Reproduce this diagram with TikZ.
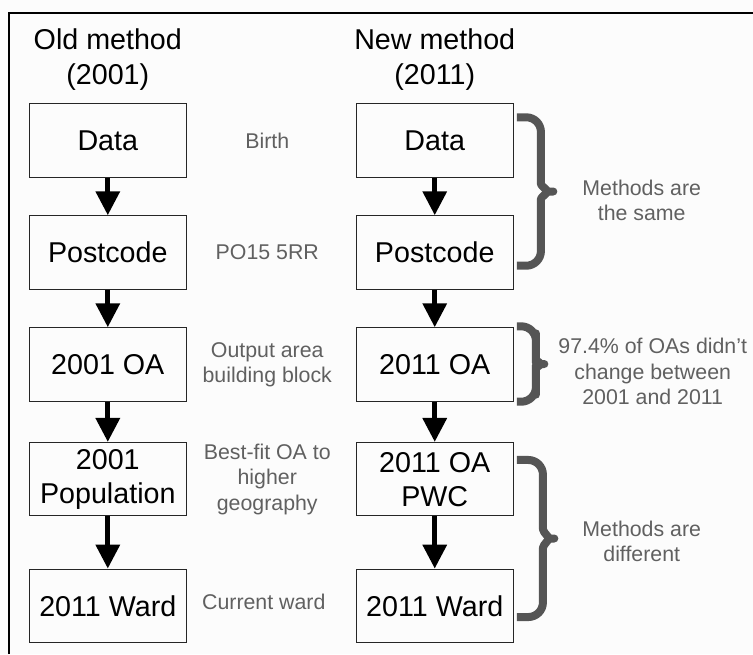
\documentclass[tikz,border=0pt]{standalone}
\usepackage{fontspec}
\setmainfont{Liberation Sans}
\usepackage{xcolor}
\usepackage{tikz}
\usetikzlibrary{arrows.meta, positioning, calc}

\definecolor{notegray}{HTML}{606060}
\definecolor{bracegray}{HTML}{555555}

\tikzstyle{stepbox} = [rectangle, minimum width=118pt, minimum height=55pt, inner sep=1pt, text centered, align=center, draw=black!85, line width=0.8pt, font=\fontsize{21.5}{25.5}\selectfont]
\tikzstyle{heading} = [align=center, font=\fontsize{21.5}{26}\selectfont]
\tikzstyle{note} = [align=center, text=notegray, font=\fontsize{16}{19}\selectfont]
\tikzstyle{arrow} = [line width=4pt, -{Triangle[length=18pt, width=17.5pt]}]
\tikzstyle{curly} = [line width=6pt, draw=bracegray, rounded corners=11pt, line join=round]

\begin{document}
\begin{tikzpicture}[x=0.75pt, y=-0.75pt, node distance=84pt]
\useasboundingbox (0,0) rectangle (753,654);
\fill[white!99!black] (0,0) rectangle (753,654);
\draw[line width=1pt] (9,654) -- (9,13) -- (753,13);

% old method
\node (o1) [stepbox] at (107.8,140.5) {Data};
\node (o2) [stepbox, below of=o1] {Postcode};
\node (o3) [stepbox, below of=o2] {2001 OA};
\node (o4) [stepbox, below of=o3, yshift=-2pt] {2001\\Population};
\node (o5) [stepbox, below of=o4, yshift=-11pt] {2011 Ward};
\node (oldhead) [heading, above of=o1, yshift=-23.5pt] {Old method\\(2001)};

% new method
\node (n1) [stepbox, right of=o1, xshift=161.2pt] {Data};
\node (n2) [stepbox, below of=n1] {Postcode};
\node (n3) [stepbox, below of=n2] {2011 OA};
\node (n4) [stepbox, below of=n3, yshift=-2pt] {2011 OA\\PWC};
\node (n5) [stepbox, below of=n4, yshift=-11pt] {2011 Ward};
\node (newhead) [heading, above of=n1, yshift=-23.5pt] {New method\\(2011)};

% notes in between
\node (t1) [note, right of=o1, xshift=35.6pt] {Birth};
\node (t2) [note, right of=o2, xshift=35.6pt] {PO15 5RR};
\node (t3) [note, right of=o3, xshift=35.6pt] {Output area\\building block};
\node (t4) [note, right of=o4, xshift=35.6pt] {Best-fit OA to\\higher\\geography};
\node (t5) [note, right of=o5, xshift=33pt, yshift=3pt] {Current ward};

\draw [arrow] (o1) -- (o2);
\draw [arrow] (o2) -- (o3);
\draw [arrow] (o3) -- (o4);
\draw [arrow] (o4) -- (o5);
\draw [arrow] (n1) -- (n2);
\draw [arrow] (n2) -- (n3);
\draw [arrow] (n3) -- (n4);
\draw [arrow] (n4) -- (n5);

% braces
\coordinate (b1t) at ($(n1.north east)+(3,14)$);
\coordinate (b1b) at ($(n2.south east)+(3,-24)$);
\coordinate (b1m) at ($(b1t)!0.5!(b1b)$);
\draw [curly] (b1t) -- ++(24,0) -- ($(b1m)+(24,-22)$) .. controls ($(b1m)+(24,-6)$) and ($(b1m)+(32,0)$) .. ($(b1m)+(45,0)$) .. controls ($(b1m)+(32,0)$) and ($(b1m)+(24,6)$) .. ($(b1m)+(24,22)$) -- ($(b1b)+(24,0)$) -- (b1b);

\coordinate (b2t) at ($(n3.north east)+(3,-1)$);
\coordinate (b2b) at ($(n3.south east)+(3,0)$);
\coordinate (b2m) at ($(b2t)!0.5!(b2b)$);
\draw [curly] (b2t) -- ++(19,0) -- ($(b2m)+(19,-16)$) .. controls ($(b2m)+(19,-5)$) and ($(b2m)+(26,0)$) .. ($(b2m)+(36,0)$) .. controls ($(b2m)+(26,0)$) and ($(b2m)+(19,5)$) .. ($(b2m)+(19,16)$) -- ($(b2b)+(19,0)$) -- (b2b);

\coordinate (b3t) at ($(n4.north east)+(3,18)$);
\coordinate (b3b) at ($(n5.south east)+(3,-26)$);
\coordinate (b3m) at ($(b3t)!0.5!(b3b)$);
\draw [curly] (b3t) -- ++(26,0) -- ($(b3m)+(26,-24)$) .. controls ($(b3m)+(26,-6)$) and ($(b3m)+(34,0)$) .. ($(b3m)+(46,0)$) .. controls ($(b3m)+(34,0)$) and ($(b3m)+(26,6)$) .. ($(b3m)+(26,24)$) -- ($(b3b)+(26,0)$) -- (b3b);

% brace labels
\node (same) [note] at ($(n1)!0.5!(n2)+(207,4)$) {Methods are\\the same};
\node (kept) [note] at ($(n3)+(218,7)$) {97.4\% of OAs didn’t\\change between\\2001 and 2011};
\node (diff) [note] at ($(n4)!0.5!(n5)+(207,-1)$) {Methods are\\different};
\end{tikzpicture}
\end{document}
